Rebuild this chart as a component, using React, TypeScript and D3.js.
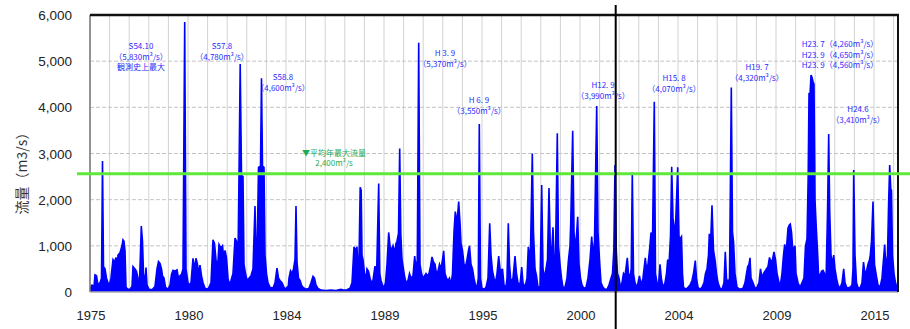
import React from "react";
import * as d3 from "d3";

// ---- data: [sample index, flow m3/s] ----
const seg1975: [number, number][] = [[0,80],[2,150],[4,120],[5,370],[6.5,350],[8,150],[10,200],[11.5,300],[12.5,2840],[13.5,550],[15,500],[16.5,300],[18,200],[19,120],[21,300],[23,700],[24.5,650],[26,750],[27,500],[28,800],[30,850],[32,1000],[33,1130],[34,1100],[35,900],[36,100],[38,60],[40,60],[42,120],[43,550],[45,500],[46.5,450],[48,300],[49.5,200],[51.3,1430],[52.5,1100],[53.5,400],[55,200],[56,530],[57,150],[59,60],[62,50],[65,120],[67,500],[68.5,660],[70,620],[71.5,500],[72.5,350],[74,300],[75.5,100],[78,60],[80,150],[81.5,380],[83,470],[85,450],[87,480],[88.5,300],[90,350],[91.5,380],[93,500],[94.7,5850],[96,500],[98,200]];
const seg1980: [number, number][] = [[99,150],[101,200],[103,730],[104.5,500],[106,730],[107.5,600],[108.5,400],[110,580],[111.5,350],[113,200],[115,80],[118,60],[121,200],[123,1130],[124.5,1050],[126,700],[127.5,500],[129,1030],[131,950],[132.5,1000],[134,700],[135,900],[136.5,740],[138,300],[139.5,150],[141,250],[143,400],[145,1170],[146.5,1100],[148,700],[149,2530],[150.2,4940],[151.5,2530],[153,2500],[154,600],[155.5,400],[157,250],[159,300],[161,350],[163,500],[165,1860],[166,900],[167,700],[168.5,2700],[170.5,2730],[171.5,4630],[172.5,2730],[174,2700],[175,800],[176.5,400],[178,200],[180,100],[183,80],[185,200],[187,520],[188.5,300],[190,250],[192,200],[194,100],[196,60]];
const seg1984: [number, number][] = [[197,100],[198,60],[199,300],[200.5,460],[202,400],[203.5,500],[205,700],[206,1860],[207,650],[208.5,300],[210,250],[211.5,150],[213,100],[216,60],[219,80],[221,200],[223,340],[224.5,300],[226,150],[228,80],[231,40],[236,30],[241,40],[246,30],[251,60],[254,40],[257,50],[260,80],[262,200],[264,980],[265.5,900],[267,980],[268,500],[269,700],[270.2,2270],[271.2,2200],[272,800],[273,700],[274.5,400],[276,300],[277,500],[278.5,450],[280,300],[281.5,200],[283,250],[285,560],[286.5,300],[288.7,2350],[289.8,400],[291,250],[292.5,150],[294,100]];
const seg1989: [number, number][] = [[295.5,200],[297,600],[298.7,1290],[300,1000],[301.5,900],[303,1000],[304.5,850],[306,1050],[307,1100],[308.5,1270],[309.7,3110],[310.8,1250],[312,700],[313,560],[314.5,350],[316,200],[318,250],[319.5,400],[321,300],[323,350],[324.7,780],[326,500],[327.3,700],[328.7,5400],[330,600],[331.5,400],[333,300],[334.5,350],[336,400],[337.5,350],[339,400],[340.5,550],[342,760],[343.5,650],[345,600],[346.5,400],[348,450],[349.5,600],[351,500],[352.5,700],[353.7,890],[355,400],[356.5,300],[358,250],[359.5,300],[361,150],[362.5,400],[364,1300],[365.3,1740],[367,1500],[368.7,1960],[370,1500],[371,1050],[372.5,900],[374,600],[375.5,550],[377,700],[378.5,900],[379.5,1000],[381,600],[382.5,500],[384,300],[385.5,150],[387,100],[388.3,300],[389.3,3640],[390.5,300],[392,80]];
const seg1995: [number, number][] = [[394,60],[396,100],[398,300],[399.7,1490],[401,800],[402.5,450],[404,300],[405.5,200],[407,400],[408.7,780],[410,500],[411.5,450],[412.5,500],[414,150],[416,100],[417,300],[418.3,1490],[419.5,600],[421,200],[423,300],[425,780],[426.5,400],[428,200],[430,150],[431.7,540],[433,200],[435,100],[437,300],[438.3,980],[439.5,800],[440.5,900],[442.3,3000],[443.5,1300],[445,500],[446.5,350],[448,100],[450,120],[451.7,2320],[453,500],[454.5,300],[456,500],[457.5,700],[459,2250],[460.5,800],[462,1000],[463,1400],[464,700],[465.5,800],[467.3,3440],[468.5,1000],[470,600],[471.5,300],[473,100],[475,100],[477,300],[478.5,700],[480,1000],[480.7,1470],[482.7,3490],[484,1300],[485.5,900],[487.7,1630],[489,600],[490.5,300]];
const seg2000: [number, number][] = [[492,150],[494,80],[496,100],[498,300],[500,700],[501.7,1200],[503,800],[504.5,1100],[506.7,4030],[508,1300],[509.5,700],[511,200],[513,100],[515,60],[517,60],[519,150],[521,300],[522.5,400],[523.8,900],[525,2750],[526.3,900],[527.5,400],[529,300],[530.5,100],[532,200],[533.5,400],[535,350],[537.3,740],[538.5,400],[540,300],[541.2,500],[542.3,2590],[543.5,400],[545,200],[546.5,100],[548,200],[549.5,350],[551,150],[553,300],[555.3,740],[556.5,500],[558,600],[559.5,900],[561,1290],[562.5,1100],[564.3,4120],[565.5,400],[567,200],[568.5,150],[570,600],[571.3,300],[573,100],[575,200],[576.5,400],[577.7,700],[579,600],[580.5,1200],[581.7,2710],[583,1600],[584.5,1350],[585.5,1400],[587.7,2700],[589,1200],[590,1150],[591.5,1200]];
const seg2004: [number, number][] = [[592.5,400],[593.5,100],[596,60],[598,100],[600,150],[602,250],[603.5,400],[605.3,680],[606.5,300],[608,100],[610,60],[612,100],[614,200],[615.5,400],[617,500],[618.5,800],[619.3,1260],[620.5,1000],[622,1880],[623.5,900],[625,700],[626.5,400],[628,200],[630,80],[632,60],[634,200],[635.3,870],[636.5,300],[638,200],[639.5,300],[641.3,4430],[642.5,1300],[643.5,1100],[645,400],[647,100],[650,60],[653,80],[655,200],[656.5,400],[657.7,550],[659,600],[660,740],[661,300],[663,200],[665,80],[667,100],[669,200],[670.5,500],[672,300],[673.5,400],[675,450],[676.5,500],[678,550],[679.5,750],[681,650],[682.5,700],[684,870],[685.5,700]];
const seg2009: [number, number][] = [[687,400],[688.5,250],[690,100],[692,400],[693.5,800],[694.7,1030],[696,800],[697,1100],[698,1380],[699.3,1450],[700.3,1470],[701.5,1300],[702.5,1000],[703.5,900],[705,1000],[706,400],[708,200],[710,100],[712,200],[714,300],[715.5,1000],[717,1150],[718.2,2500],[719,4280],[720,4260],[721,4700],[722,4650],[723,4560],[724,4500],[725,2000],[726.3,1380],[727.5,900],[728.5,400],[730,350],[731.5,450],[733,470],[734.5,400],[736,200],[737.5,1700],[738.7,3420],[739.7,1750],[741,800],[742.5,600],[743.7,800],[745,500],[746.5,300],[748,150],[750,80],[752,200],[753.7,500],[755,200],[757,80],[760,100],[762,150],[763,500],[763.7,2640],[765,800],[766.5,200],[768,100],[770,80],[772,200],[773.5,650],[775,400],[776.5,450],[778,600],[779.5,700],[780.3,800],[781.5,1100],[783,1960],[784.5,600]];
const seg2015: [number, number][] = [[786,400],[788,150],[790,100],[792,300],[793.5,700],[794.7,1030],[796,500],[797.5,800],[798.7,2000],[799.7,2750],[800.8,2230],[801.5,2200],[802.5,800],[804,400],[805.5,200],[807,100]];

const yearLabels = ["1975", "1980", "1984", "1989", "1995", "2000", "2004", "2009", "2015"];
const yearTickSamples = [0, 98, 196, 294, 392, 490, 588, 686, 784];
const yTicks = [0, 1000, 2000, 3000, 4000, 5000, 6000];
const meanAnnualMaxLine = 2560;
const markerSample = 525.7;
const sampleDomain = [0, 808];

const annotations: string[][] = [
  ["S54.10", "（5,830m³/s）", "観測史上最大"],
  ["S57.8", "（4,780m³/s）"],
  ["S58.8", "（4,600m³/s）"],
  ["H 3. 9", "（5,370m³/s）"],
  ["H 6. 9", "（3,550m³/s）"],
  ["H12. 9", "（3,990m³/s）"],
  ["H15. 8", "（4,070m³/s）"],
  ["H19. 7", "（4,320m³/s）"],
  ["H23. 7（4,260m³/s）", "H23. 9（4,650m³/s）", "H23. 9（4,560m³/s）"],
  ["H24.6", "（3,410m³/s）"],
];
const meanLabel = ["▼平均年最大流量", "2,400m³/s"];

// ---- layout ----
const W = 910, H = 329;
const M = { left: 90, right: 898, top: 15, bottom: 292 };
const annPos = [
  [141, 49], [222, 49], [283, 80], [445, 56], [479, 103],
  [603, 88], [674, 81], [757, 70], [840, 47], [858, 112],
];

export default function App() {
  const data = [...seg1975, ...seg1980, ...seg1984, ...seg1989, ...seg1995, ...seg2000, ...seg2004, ...seg2009, ...seg2015];
  const x = d3.scaleLinear().domain(sampleDomain).range([M.left, M.right]);
  const y = d3.scaleLinear().domain([0, 6000]).range([M.bottom, M.top]);
  const area = d3.area<[number, number]>().x(d => x(d[0])).y0(y(0)).y1(d => y(d[1]));
  const line = d3.line<[number, number]>().x(d => x(d[0])).y(d => y(d[1]));
  const gridStep = (yearTickSamples[1] - yearTickSamples[0]) / 5;
  const vGrid = d3.range(0, sampleDomain[1] + 0.01, gridStep);
  const jp = "'Noto Sans CJK JP', sans-serif";

  return (
    <svg width={W} height={H} style={{ position: "absolute", left: 0, top: 0, background: "#fff" }}>
      <defs>
        <clipPath id="plot"><rect x={M.left} y={M.top} width={M.right - M.left} height={M.bottom - M.top} /></clipPath>
      </defs>
      {vGrid.map((s, i) => (
        <line key={"v" + i} x1={x(s)} x2={x(s)} y1={M.top} y2={M.bottom} stroke="#d2d2d2" strokeWidth={1} />
      ))}
      {yTicks.slice(1, -1).map(t => (
        <line key={"h" + t} x1={M.left} x2={M.right} y1={y(t)} y2={y(t)} stroke="#c4c4c4" strokeWidth={1} strokeDasharray="4 2" />
      ))}
      <g clipPath="url(#plot)">
        <path d={area(data) || ""} fill="#0000ff" />
        <path d={line(data) || ""} fill="none" stroke="#0000ff" strokeWidth={1.6} strokeLinejoin="miter" />
      </g>
      <line x1={M.left} x2={M.left} y1={M.top} y2={M.bottom} stroke="#777" strokeWidth={1.5} />
      <line x1={M.left} x2={M.right} y1={M.bottom} y2={M.bottom} stroke="#aaa" strokeWidth={1.5} />
      <line x1={M.left} x2={M.right + 1} y1={M.top} y2={M.top} stroke="#111" strokeWidth={2.5} />
      <line x1={M.right} x2={M.right} y1={M.top} y2={M.bottom} stroke="#111" strokeWidth={2} />
      {yTicks.map(t => (
        <text key={"yt" + t} x={72} y={y(t) + 5} textAnchor="end" fontFamily="'Liberation Sans', Arial, sans-serif" fontSize={13.5} fill="#222">
          {d3.format(",")(t)}
        </text>
      ))}
      {yearTickSamples.map((s, i) => (
        <text key={"xt" + i} x={x(s) + 1} y={320} textAnchor="middle" fontFamily="'Liberation Sans', Arial, sans-serif" fontSize={13} fill="#222">
          {yearLabels[i]}
        </text>
      ))}
      <text transform="translate(27,170) rotate(-90)" textAnchor="middle" fontFamily={jp} fontSize={14} fill="#333">流量（m3/s）</text>
      <line x1={M.left - 13} x2={W} y1={y(meanAnnualMaxLine)} y2={y(meanAnnualMaxLine)} stroke="#5ee83a" strokeWidth={3} />
      {meanLabel.map((s, i) => (
        <text key={"ml" + i} x={334} y={156 + i * 10} textAnchor="middle" fontFamily={jp} fontSize={8} fill="#1faa55">{s}</text>
      ))}
      {annotations.map((lines, k) => (
        <g key={"a" + k}>
          {lines.map((s, i) => (
            <text key={i} x={annPos[k][0]} y={annPos[k][1] + i * 10.5} textAnchor="middle" fontFamily={jp} fontSize={8} fill="#2b2bff">{s}</text>
          ))}
        </g>
      ))}
      <line x1={x(markerSample)} x2={x(markerSample)} y1={5} y2={H} stroke="#000" strokeWidth={2} />
    </svg>
  );
}
